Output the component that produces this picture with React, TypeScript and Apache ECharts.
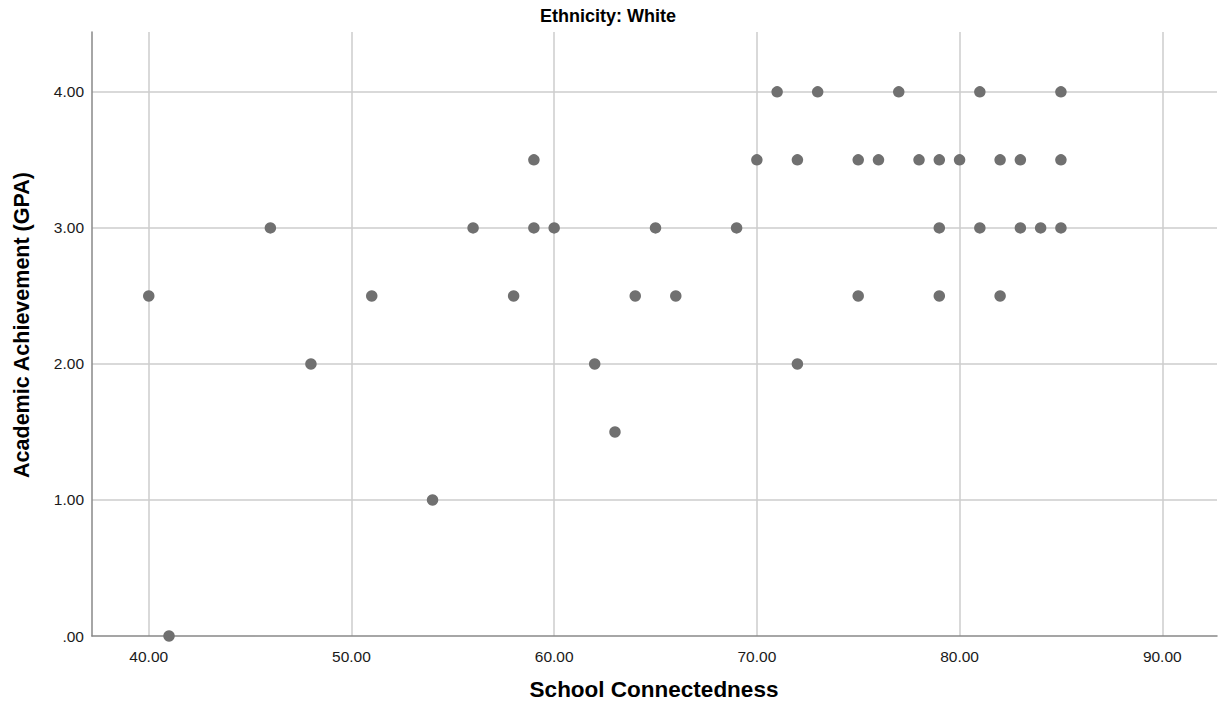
import React, { useEffect, useRef } from "react";
import * as echarts from "echarts";

const chartTitle = "Ethnicity: White";
const xAxisTitle = "School Connectedness";
const yAxisTitle = "Academic Achievement (GPA)";

const schoolConnectedness = [
  40, 41, 46, 48, 51, 54, 56, 58, 59, 59, 60, 62, 63, 64, 65, 66, 69, 70, 71, 72,
  72, 73, 75, 75, 76, 77, 78, 79, 79, 79, 80, 81, 81, 82, 82, 83, 83, 84, 85, 85, 85,
];
const gpa = [
  2.5, 0, 3, 2, 2.5, 1, 3, 2.5, 3.5, 3, 3, 2, 1.5, 2.5, 3, 2.5, 3, 3.5, 4, 3.5,
  2, 4, 3.5, 2.5, 3.5, 4, 3.5, 3.5, 3, 2.5, 3.5, 4, 3, 3.5, 2.5, 3.5, 3, 3, 4, 3.5, 3,
];

const xMin = 37.2;
const xMax = 92.7;
const yMin = 0;
const yMax = 4.44;

const FONT = "'Liberation Sans', Arial, sans-serif";

export default function App() {
  const ref = useRef<HTMLDivElement>(null);

  useEffect(() => {
    if (!ref.current) return;
    const chart = echarts.init(ref.current, undefined, { renderer: "svg" });
    const points = schoolConnectedness.map((x, i) => [x, gpa[i]]);
    chart.setOption({
      animation: false,
      backgroundColor: "#ffffff",
      grid: { left: 92, right: 4, top: 32, bottom: 75, containLabel: false },
      xAxis: {
        type: "value",
        min: xMin,
        max: xMax,
        splitNumber: 5,
        axisLine: { show: true, lineStyle: { color: "#888888", width: 1.5 } },
        axisTick: { show: false },
        axisLabel: {
          showMinLabel: false,
          showMaxLabel: false,
          margin: 12,
          color: "#1a1a1a",
          fontSize: 15.5,
          fontFamily: FONT,
          formatter: (v: number) => v.toFixed(2),
        },
        splitLine: {
          show: true,
          showMinLine: false,
          showMaxLine: false,
          lineStyle: { color: "#cccccc", width: 1.5 },
        },
      },
      yAxis: {
        type: "value",
        min: yMin,
        max: yMax,
        interval: 1,
        axisLine: { show: true, lineStyle: { color: "#888888", width: 1.5 } },
        axisTick: { show: false },
        axisLabel: {
          showMaxLabel: false,
          margin: 8,
          color: "#1a1a1a",
          fontSize: 15.5,
          fontFamily: FONT,
          formatter: (v: number) => (v === 0 ? ".00" : v.toFixed(2)),
        },
        splitLine: {
          show: true,
          showMinLine: false,
          showMaxLine: false,
          lineStyle: { color: "#cccccc", width: 1.5 },
        },
      },
      graphic: [
        {
          type: "text",
          x: 608,
          y: 16,
          style: {
            text: chartTitle,
            font: `bold 18px ${FONT}`,
            fill: "#000000",
            align: "center",
            verticalAlign: "middle",
          },
        },
        {
          type: "text",
          x: 654,
          y: 689,
          style: {
            text: xAxisTitle,
            font: `bold 22.5px ${FONT}`,
            fill: "#000000",
            align: "center",
            verticalAlign: "middle",
          },
        },
        {
          type: "text",
          x: 22,
          y: 325,
          rotation: Math.PI / 2,
          style: {
            text: yAxisTitle,
            font: `bold 21.5px ${FONT}`,
            fill: "#000000",
            align: "center",
            verticalAlign: "middle",
          },
        },
      ],
      series: [
        {
          type: "scatter",
          data: points,
          symbol: "circle",
          symbolSize: 11.5,
          itemStyle: { color: "#707070", opacity: 1 },
        },
      ],
    });
    return () => chart.dispose();
  }, []);

  return (
    <div
      ref={ref}
      style={{ position: "fixed", left: 0, top: 0, width: 1221, height: 711 }}
    />
  );
}
